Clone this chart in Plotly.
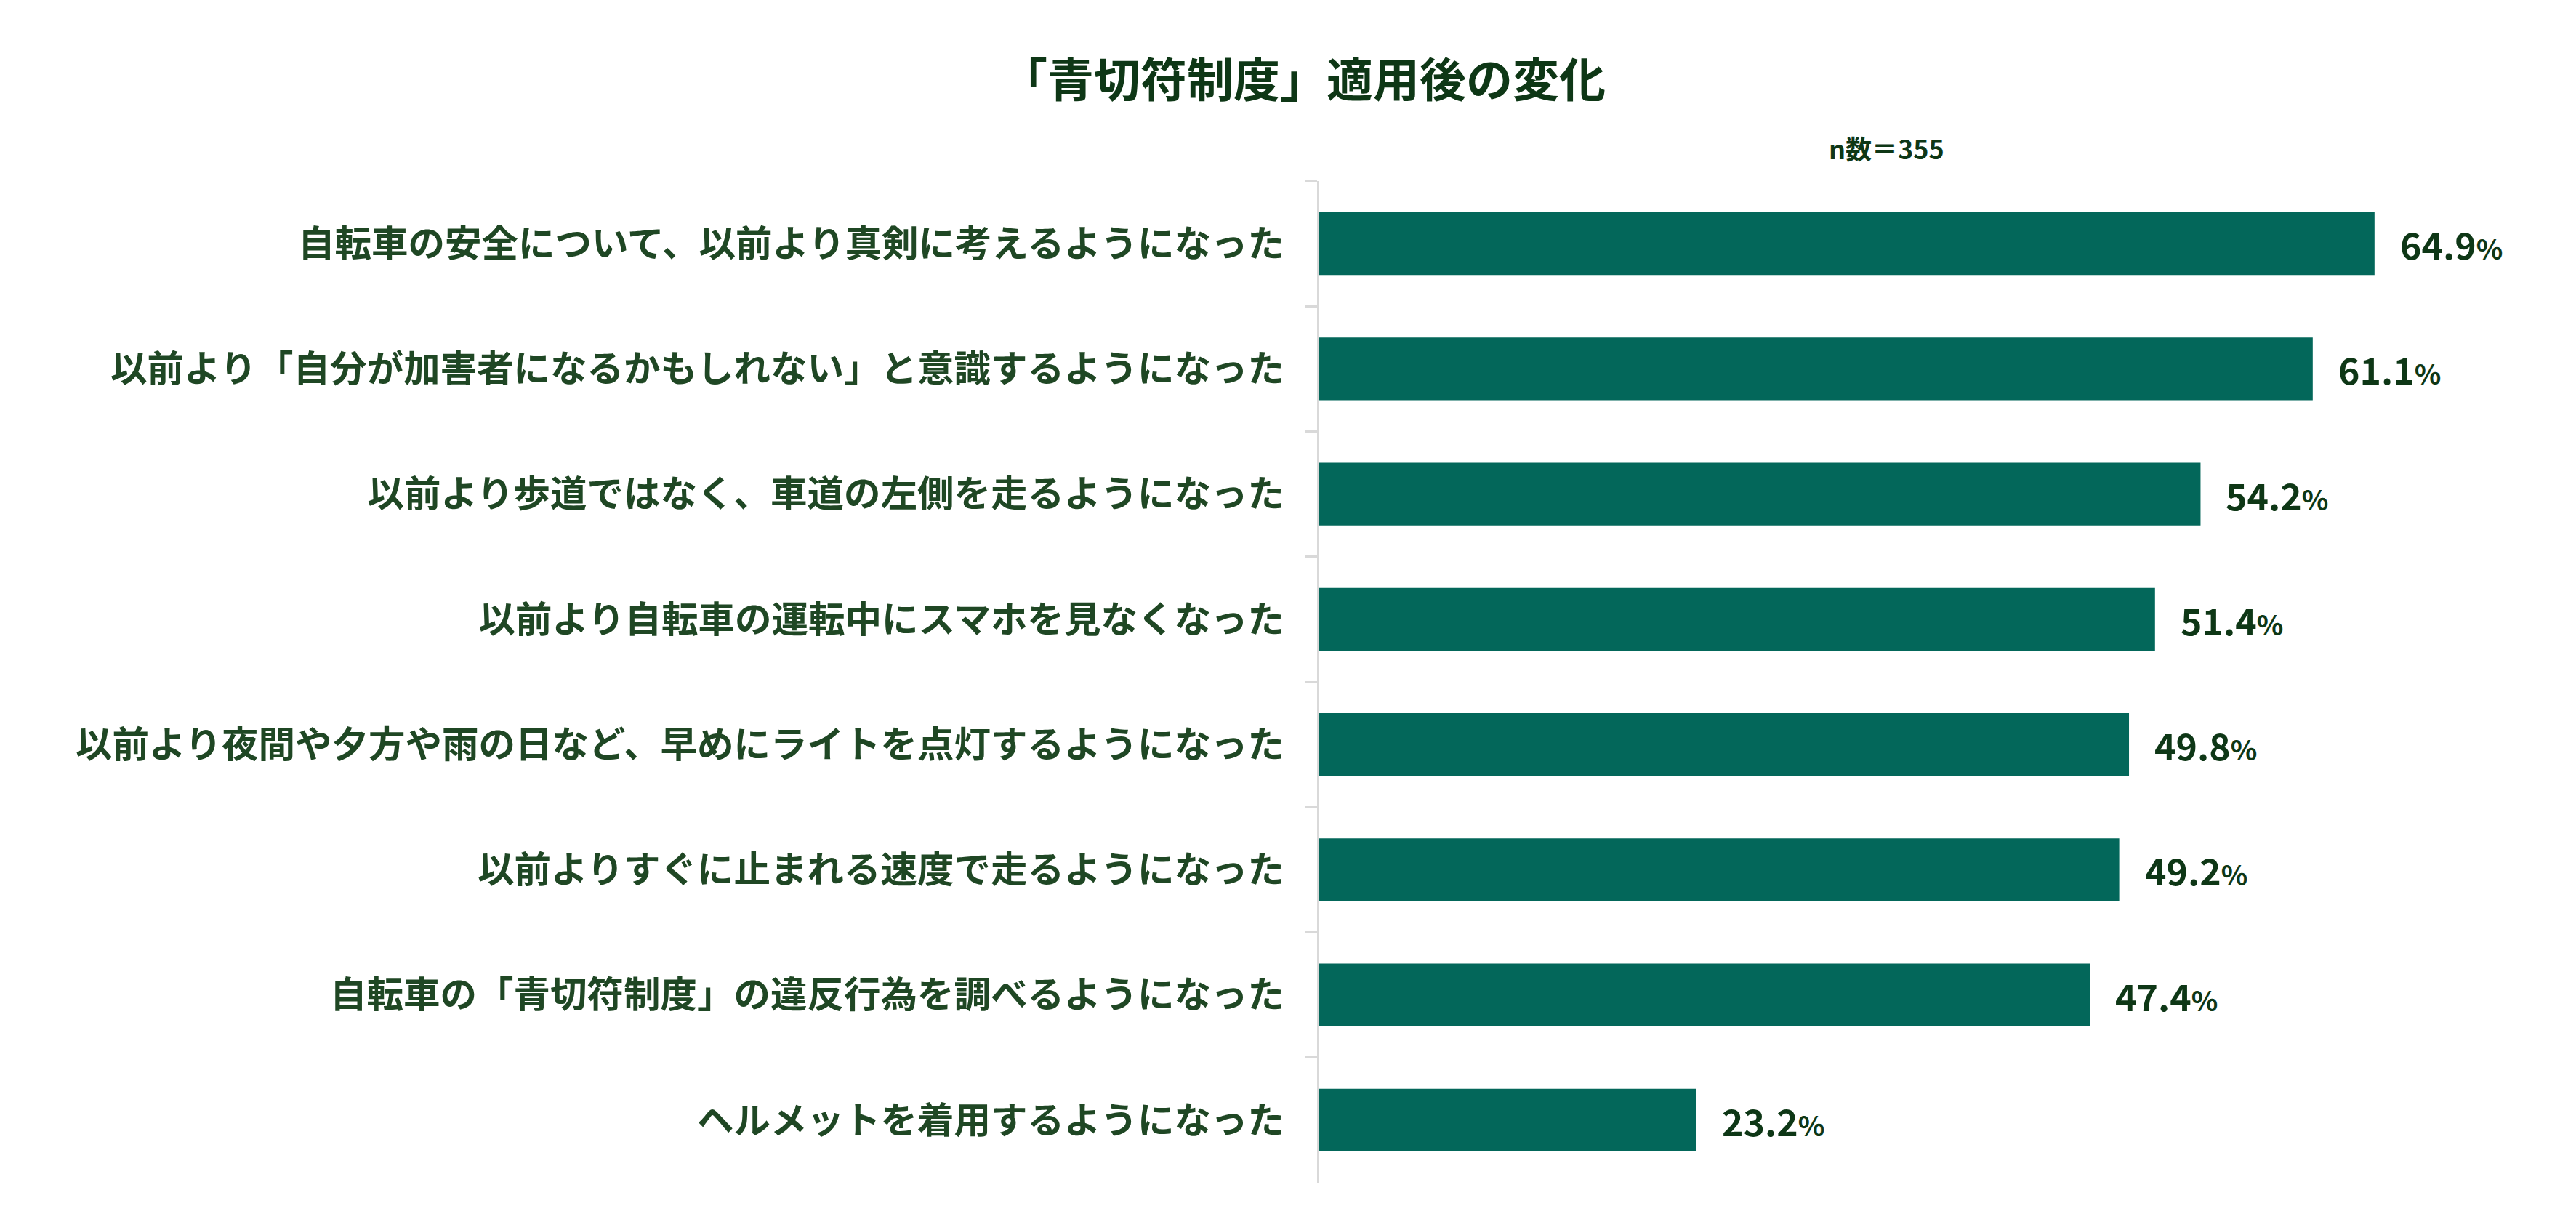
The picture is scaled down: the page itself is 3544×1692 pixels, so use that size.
import plotly.graph_objects as go

# 「青切符制度」適用後の変化 (n=355)
項目 = [
    "自転車の安全について、以前より真剣に考えるようになった",
    "以前より「自分が加害者になるかもしれない」と意識するようになった",
    "以前より歩道ではなく、車道の左側を走るようになった",
    "以前より自転車の運転中にスマホを見なくなった",
    "以前より夜間や夕方や雨の日など、早めにライトを点灯するようになった",
    "以前よりすぐに止まれる速度で走るようになった",
    "自転車の「青切符制度」の違反行為を調べるようになった",
    "ヘルメットを着用するようになった",
]
割合 = [64.9, 61.1, 54.2, 51.4, 49.8, 49.2, 47.4, 23.2]

タイトル = "「青切符制度」適用後の変化"
注記 = "n数＝355"

FONT = "Noto Sans CJK JP"
BAR = "#03675a"
DARK = "#0e3716"
LABEL = "#1f4724"

# ページの body に 8px の余白があるので、その分小さく作る
W, H = 3528, 1676
L, T, B = 1807, 241, 57
plot_h = H - T - B

fig = go.Figure(go.Bar(
    x=割合, y=項目, orientation="h",
    marker=dict(color=BAR, line=dict(width=0)),
    hoverinfo="x+y",
))

# 値ラベル
for k, v in zip(項目, 割合):
    fig.add_annotation(
        x=v, y=k, xref="x", yref="y",
        text=f"<b>{v:.1f}<span style='font-size:38px'>%</span></b>",
        showarrow=False, xanchor="left", yanchor="middle", xshift=33,
        font=dict(family=FONT, size=50, color=DARK),
    )

fig.add_annotation(
    x=(2587 - L) / (W - L), y=(H - B - 195) / plot_h,
    xref="paper", yref="paper", text=f"<b>{注記}</b>",
    showarrow=False, xanchor="center", yanchor="middle",
    font=dict(family=FONT, size=36, color=DARK),
)

fig.update_layout(
    width=W, height=H,
    paper_bgcolor="white", plot_bgcolor="white",
    margin=dict(l=L, r=0, t=T, b=B),
    title=dict(text=f"<b>{タイトル}</b>", x=1785 / W, xanchor="center",
               y=1 - 103 / H, yanchor="middle",
               font=dict(family=FONT, size=64, color=DARK)),
    bargap=0.5,
    showlegend=False,
    font=dict(family=FONT),
)
fig.update_xaxes(range=[0, (W - L) / 22.37], visible=False, showgrid=False)
fig.update_yaxes(
    autorange="reversed", showgrid=False,
    showline=True, linecolor="#d9d9d9", linewidth=3,
    ticks="outside", tickson="boundaries", ticklen=16, tickwidth=3, tickcolor="#d9d9d9",
    ticklabelstandoff=35,
    tickfont=dict(family=FONT, size=50.5, color=LABEL, weight="bold"),
)

fig.write_html("out.html")
